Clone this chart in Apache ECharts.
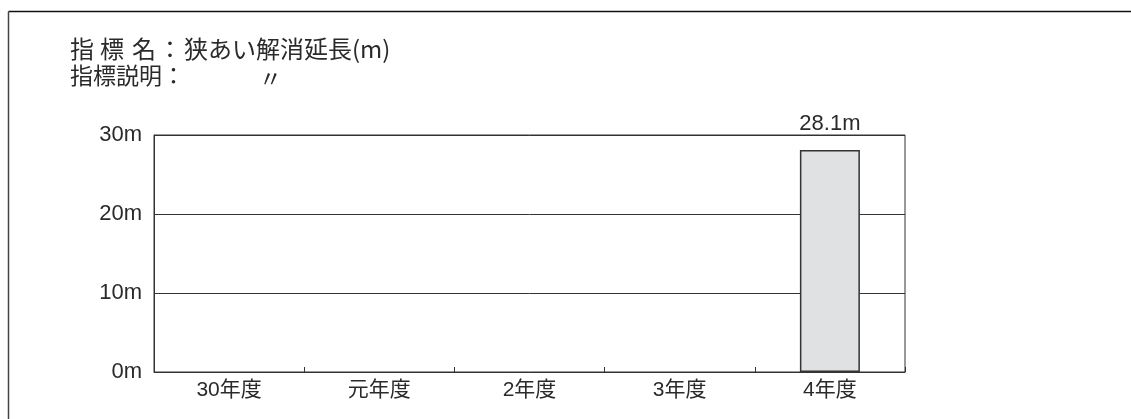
<!DOCTYPE html>
<html>
<head>
<meta charset="utf-8">
<script src="https://cdn.jsdelivr.net/npm/echarts@6/dist/echarts.min.js"></script>
<style>
  html, body { margin: 0; padding: 0; background: #fff; }
  #chart { width: 1131px; height: 419px; }
</style>
</head>
<body>
<div id="chart"></div>
<script>
// 年度別の狭あい解消延長
const categories = ['30年度', '元年度', '2年度', '3年度', '4年度'];
const values = [null, null, null, null, 28.1];
const yTicks = { min: 0, max: 30, interval: 10 };
const titleLine1 = ['指', '標', '名', '：', '狭あい解消延長(m)'];
const titleLine2 = '指標説明：';
const dittoMark = '〃';

const LATIN = "'Liberation Sans', 'Noto Sans CJK JP', sans-serif";
const JP = "'Noto Sans CJK JP', 'Liberation Sans', sans-serif";
const INK = '#2a2a2a';
const LINE = '#333';

// 見出し1行目は字間を空けて配置する
const line1X = [70, 100, 132, 158, 184];
const titleGraphics = titleLine1.map((t, i) => ({
  type: 'text', left: line1X[i], top: 37, style: { text: t, fill: INK, font: "24px " + JP }
}));

const chart = echarts.init(document.getElementById('chart'), null, { renderer: 'canvas' });
chart.setOption({
  animation: false,
  backgroundColor: '#fff',
  grid: {
    left: 154, right: 226, top: 135, bottom: 47,
    show: true, borderColor: LINE, borderWidth: 1, backgroundColor: 'transparent'
  },
  xAxis: {
    type: 'category',
    data: categories,
    axisLine: { lineStyle: { color: LINE, width: 1 } },
    axisTick: { show: true, inside: true, length: 5, lineStyle: { color: LINE } },
    axisLabel: { color: INK, fontSize: 21, fontFamily: LATIN, margin: 8 },
    splitLine: { show: false }
  },
  yAxis: {
    type: 'value',
    min: yTicks.min, max: yTicks.max, interval: yTicks.interval,
    axisLine: { show: true, lineStyle: { color: LINE, width: 1 } },
    axisTick: { show: false },
    axisLabel: { color: INK, fontSize: 22, fontFamily: LATIN, margin: 12, formatter: '{value}m' },
    splitLine: { show: true, lineStyle: { color: LINE, width: 1 } }
  },
  series: [{
    type: 'bar',
    data: values,
    barWidth: 60,
    itemStyle: { color: '#e0e1e3', borderColor: LINE, borderWidth: 1.5 },
    label: {
      show: true, position: 'top', distance: 15,
      color: INK, fontSize: 22, fontFamily: LATIN,
      formatter: p => p.value == null ? '' : p.value + 'm'
    }
  }],
  graphic: [
    { type: 'line', shape: { x1: 8.5, y1: 11.5, x2: 1131, y2: 11.5 }, style: { stroke: '#111', lineWidth: 1.5 } },
    { type: 'line', shape: { x1: 8.5, y1: 11.5, x2: 8.5, y2: 419 }, style: { stroke: '#444', lineWidth: 1.5 } },
    ...titleGraphics,
    { type: 'text', left: 70, top: 64, style: { text: titleLine2, fill: INK, font: "23px " + JP } },
    { type: 'text', left: 259, top: 67, style: { text: dittoMark, fill: INK, font: "23px " + JP } }
  ]
});
</script>
</body>
</html>
